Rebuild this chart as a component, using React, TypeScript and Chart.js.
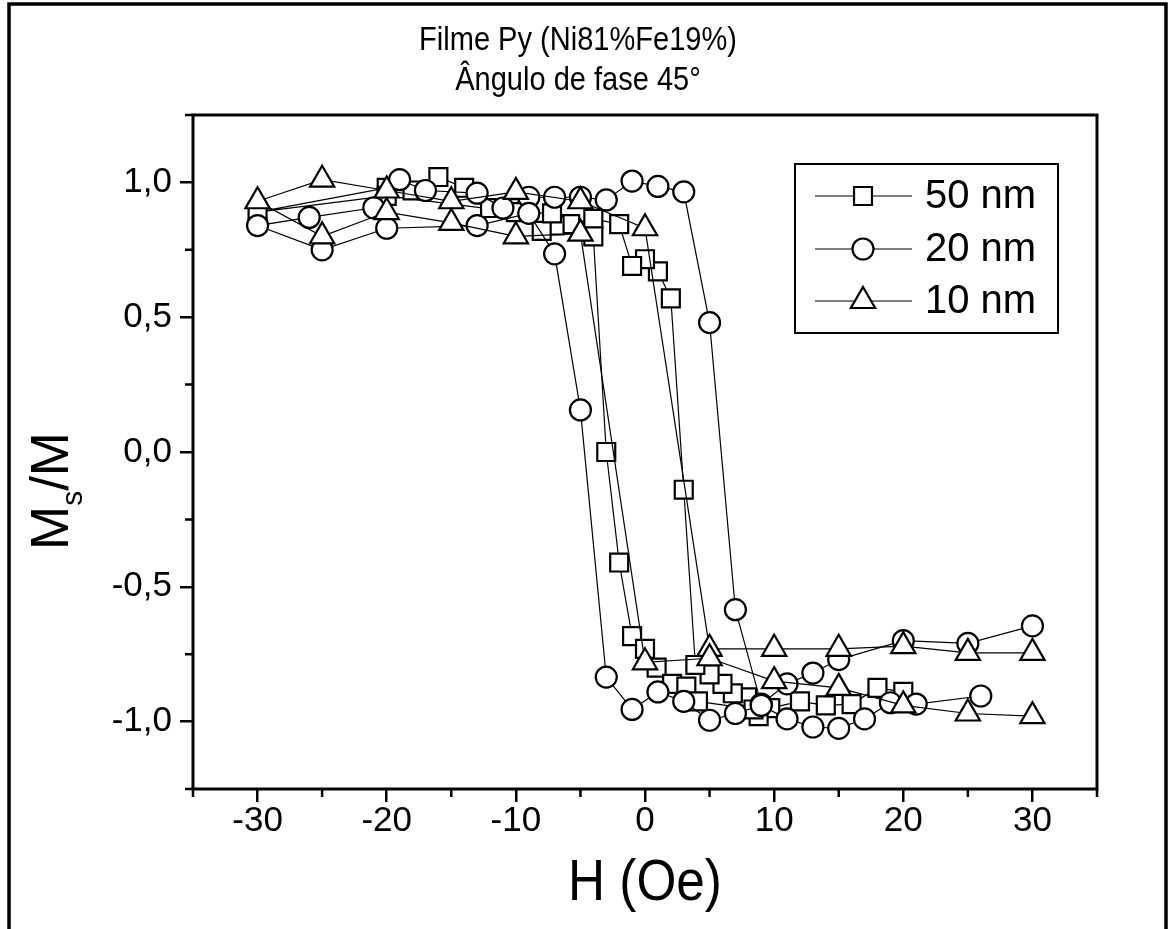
import React, { useEffect, useRef } from "react";
import { Chart, registerables } from "chart.js";

Chart.register(...registerables);

const FONT = '"Liberation Sans", Arial, Helvetica, sans-serif';

const TITLE_LINES = ["Filme Py (Ni81%Fe19%)", "Ângulo de fase 45°"];
const X_TITLE = "H (Oe)";
const LEGEND_LABELS = ["50 nm", "20 nm", "10 nm"];

const X_TICKS = [-30, -20, -10, 0, 10, 20, 30];
const Y_TICKS = [-1, -0.5, 0, 0.5, 1];
const X_MINOR = [-35, -25, -15, -5, 5, 15, 25, 35];
const Y_MINOR = [-1.25, -0.75, -0.25, 0.25, 0.75, 1.25];

// 50 nm (squares)
const H50 = [20, 18, 16, 14, 12, 9.7, 8.8, 7.9, 6.8, 6, 5, 3.9, 3, 2, 1, 0, -1, -2, -4, -5.8, -7, -8, -10, -12, -14, -16, -18, -20, -30, -20, -10, -7.2, -4, -3, -2, -1, 0, 0.9, 2.1, 3.2, 4.1, 8.4];
const M50 = [-0.89, -0.875, -0.935, -0.94, -0.925, -0.95, -0.98, -0.91, -0.895, -0.86, -0.825, -0.79, -0.14, 0.57, 0.67, 0.715, 0.69, 0.845, 0.865, 0.845, 0.84, 0.82, 0.905, 0.905, 0.98, 1.02, 0.97, 0.98, 0.89, 0.95, 0.89, 0.885, 0.8, 0.0, -0.41, -0.683, -0.73, -0.8, -0.86, -0.87, -0.925, -0.955];

// 20 nm (circles)
const H20 = [30, 25, 20, 15, 13, 11, 9, 7, 5, 3, 1, -1, -3, -5, -7, -9, -11, -13, -17, -19, -21, -26, -30, -25, -20, -13, -9, -7, -5, -3, -1, 1, 3, 5, 7, 9, 11, 13, 15, 17, 19, 21, 26];
const M20 = [-0.645, -0.71, -0.7, -0.77, -0.82, -0.86, -0.935, -0.585, 0.48, 0.965, 0.985, 1.005, 0.935, 0.945, 0.945, 0.945, 0.905, 0.96, 0.97, 1.01, 0.906, 0.87, 0.84, 0.75, 0.83, 0.84, 0.885, 0.735, 0.156, -0.835, -0.955, -0.89, -0.925, -0.995, -0.97, -0.94, -0.99, -1.02, -1.025, -0.99, -0.93, -0.935, -0.905];

// 10 nm (triangles)
const H10 = [30, 25, 20, 15, 10, 5, 0, -5, -10, -15, -20, -25, -30, -25, -20, -15, -10, -5, 0, 5, 10, 15, 20, 25, 30];
const M10 = [-0.745, -0.745, -0.72, -0.73, -0.73, -0.73, 0.83, 0.93, 0.965, 0.93, 0.97, 1.01, 0.93, 0.8, 0.89, 0.85, 0.8, 0.81, -0.78, -0.765, -0.85, -0.875, -0.94, -0.97, -0.98];

const toXY = (hs: number[], ms: number[]) => hs.map((h, i) => ({ x: h, y: ms[i] }));

const STYLES = [
  { style: "rect", radius: 12.7 },
  { style: "circle", radius: 10.5 },
  { style: "triangle", radius: 14 },
];

function scaledText(ctx: CanvasRenderingContext2D, text: string, x: number, y: number, sx: number) {
  ctx.save();
  ctx.translate(x, y);
  ctx.scale(sx, 1);
  ctx.fillText(text, 0, 0);
  ctx.restore();
}

function drawMarker(ctx: CanvasRenderingContext2D, style: string, r: number, x: number, y: number) {
  ctx.beginPath();
  if (style === "rect") {
    const s = Math.SQRT1_2 * r;
    ctx.rect(x - s, y - s, 2 * s, 2 * s);
  } else if (style === "circle") {
    ctx.arc(x, y, r, 0, Math.PI * 2);
  } else {
    ctx.moveTo(x, y - r);
    ctx.lineTo(x + Math.sin((2 * Math.PI) / 3) * r, y - Math.cos((2 * Math.PI) / 3) * r);
    ctx.lineTo(x + Math.sin((4 * Math.PI) / 3) * r, y - Math.cos((4 * Math.PI) / 3) * r);
    ctx.closePath();
  }
  ctx.fill();
  ctx.stroke();
}

const decorPlugin = {
  id: "decor",
  afterDraw(chart: any) {
    const { ctx, chartArea, scales } = chart;
    const { left, right, top, bottom } = chartArea;
    const xs = scales.x;
    const ys = scales.y;
    ctx.save();
    ctx.strokeStyle = "#000";
    ctx.fillStyle = "#000";

    // plot box
    ctx.lineWidth = 3;
    ctx.strokeRect(left, top, right - left, bottom - top);

    // minor ticks
    ctx.lineWidth = 2.5;
    ctx.beginPath();
    X_MINOR.forEach((v) => {
      const px = xs.getPixelForValue(v);
      ctx.moveTo(px, bottom);
      ctx.lineTo(px, bottom + 8);
    });
    Y_MINOR.forEach((v) => {
      const py = ys.getPixelForValue(v);
      ctx.moveTo(left - 8, py);
      ctx.lineTo(left, py);
    });
    ctx.stroke();

    // outer frame (open at bottom)
    ctx.lineWidth = 3.5;
    ctx.beginPath();
    ctx.moveTo(9, 929);
    ctx.lineTo(9, 4);
    ctx.lineTo(1166, 4);
    ctx.lineTo(1166, 929);
    ctx.stroke();

    // title
    ctx.textAlign = "center";
    ctx.textBaseline = "middle";
    ctx.font = `33px ${FONT}`;
    scaledText(ctx, TITLE_LINES[0], 578, 41, 0.88);
    scaledText(ctx, TITLE_LINES[1], 578, 81, 0.88);

    // x title
    ctx.font = `57px ${FONT}`;
    scaledText(ctx, X_TITLE, (left + right) / 2, 884, 0.9);

    // y title M_s/M rotated
    ctx.save();
    ctx.translate(68, 491);
    ctx.rotate(-Math.PI / 2);
    ctx.textBaseline = "alphabetic";
    ctx.textAlign = "left";
    const big = `53px ${FONT}`;
    const small = `30px ${FONT}`;
    ctx.font = big;
    const wM = ctx.measureText("M").width;
    const wSlashM = ctx.measureText("/M").width;
    ctx.font = small;
    const wS = ctx.measureText("s").width;
    const total = wM + wS + wSlashM;
    let cx = -total / 2;
    ctx.font = big;
    ctx.fillText("M", cx, 0);
    cx += wM;
    ctx.font = small;
    ctx.fillText("s", cx, 14);
    cx += wS;
    ctx.font = big;
    ctx.fillText("/M", cx, 0);
    ctx.restore();

    // legend
    const lx0 = 795, ly0 = 164, lx1 = 1058, ly1 = 333;
    ctx.lineWidth = 2;
    ctx.strokeRect(lx0, ly0, lx1 - lx0, ly1 - ly0);
    const rowsY = [196, 249, 301];
    LEGEND_LABELS.forEach((lab, i) => {
      const yy = rowsY[i];
      ctx.strokeStyle = "#000";
      ctx.lineWidth = 1.2;
      ctx.beginPath();
      ctx.moveTo(815, yy);
      ctx.lineTo(912, yy);
      ctx.stroke();
      ctx.lineWidth = 2.2;
      ctx.fillStyle = "#fff";
      const st = STYLES[i];
      drawMarker(ctx, st.style, st.radius, 863, yy);
      ctx.fillStyle = "#000";
      ctx.font = `40px ${FONT}`;
      ctx.textAlign = "left";
      ctx.textBaseline = "middle";
      ctx.fillText(lab, 925, yy + 1);
    });

    ctx.restore();
  },
};

export default function App() {
  const ref = useRef<HTMLCanvasElement>(null);
  useEffect(() => {
    if (!ref.current) return;
    const series = [toXY(H50, M50), toXY(H20, M20), toXY(H10, M10)];
    const chart = new Chart(ref.current, {
      type: "line",
      data: {
        datasets: series.map((d, i) => ({
          label: LEGEND_LABELS[i],
          data: d,
          borderColor: "#000",
          borderWidth: 1.2,
          pointStyle: STYLES[i].style as any,
          pointRadius: STYLES[i].radius,
          pointBackgroundColor: "#fff",
          pointBorderColor: "#000",
          pointBorderWidth: 2.2,
          fill: false,
          tension: 0,
          order: 3 - i,
        })),
      },
      options: {
        responsive: false,
        animation: false,
        events: [],
        layout: { padding: { left: 0, top: 115, right: 74, bottom: 0 } },
        plugins: {
          legend: { display: false },
          tooltip: { enabled: false },
          title: { display: false },
        },
        scales: {
          x: {
            type: "linear",
            min: -35,
            max: 35,
            border: { display: false },
            grid: {
              display: true,
              drawOnChartArea: false,
              drawTicks: true,
              tickLength: 13,
              color: "#000",
              lineWidth: 2.5,
            },
            ticks: {
              color: "#000",
              font: { size: 35, family: FONT },
              padding: -2,
              maxRotation: 0,
              callback: (v: any) => String(v),
            },
            afterBuildTicks: (s: any) => {
              s.ticks = X_TICKS.map((v) => ({ value: v }));
            },
            afterFit: (s: any) => {
              s.height = 140;
            },
          },
          y: {
            type: "linear",
            min: -1.25,
            max: 1.25,
            border: { display: false },
            grid: {
              display: true,
              drawOnChartArea: false,
              drawTicks: true,
              tickLength: 13,
              color: "#000",
              lineWidth: 2.5,
            },
            ticks: {
              color: "#000",
              font: { size: 35, family: FONT },
              padding: 8,
              callback: (v: any) => Number(v).toFixed(1).replace(".", ","),
            },
            afterBuildTicks: (s: any) => {
              s.ticks = Y_TICKS.map((v) => ({ value: v }));
            },
            afterFit: (s: any) => {
              s.width = 193;
            },
          },
        },
      },
      plugins: [decorPlugin],
    });
    return () => chart.destroy();
  }, []);
  return (
    <div style={{ position: "fixed", left: 0, top: 0, width: 1171, height: 929, background: "#fff" }}>
      <canvas ref={ref} width={1171} height={929} style={{ width: 1171, height: 929 }} />
    </div>
  );
}
